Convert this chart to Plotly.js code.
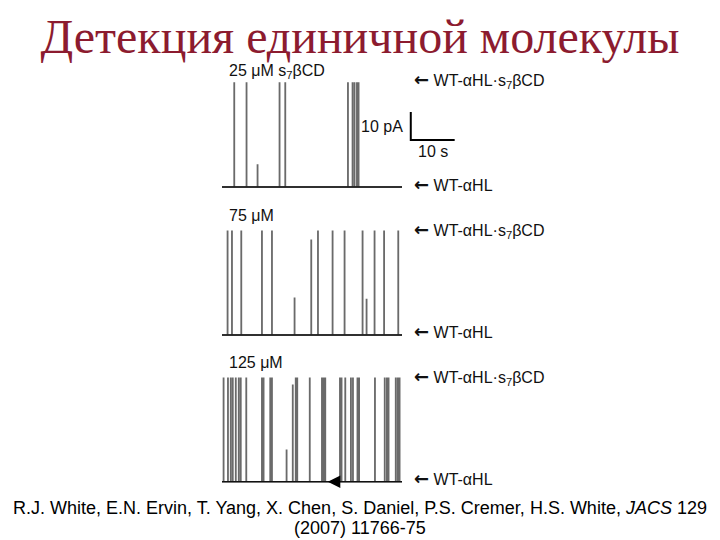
<!DOCTYPE html>
<html><head><meta charset="utf-8">
<script src="https://cdn.plot.ly/plotly-3.0.1.min.js"></script>
<style>html,body{margin:0;padding:0;background:#fff}#chart{width:720px;height:540px}</style>
</head><body><div id="chart"></div>
<script>
// Event times (s) and blockade current amplitudes (pA) read from the recordings
const times25  = [2.73, 5.53, 8.04, 13.05, 14.35, 28.63, 29.68, 30.13, 30.68, 31.05];
const amps25   = [37.2, 37.2, 7.9, 37.2, 37.2, 37.2, 37.2, 37.2, 37.2, 37.2];
const times75  = [1.21, 2.21, 4.33, 9.04, 11.32, 16.47, 20.27, 21.80, 25.13, 27.86, 31.96, 32.87, 34.69, 36.86, 40.09];
const amps75   = [37.1, 37.1, 37.1, 37.1, 37.1, 13.2, 33.9, 37.1, 37.1, 37.1, 37.1, 12.7, 37.1, 37.1, 37.1];
const times125 = [0.30, 1.30, 1.94, 2.39, 3.08, 3.76, 4.21, 5.47, 9.04, 9.41, 10.93, 11.32, 14.65, 16.06, 16.74, 17.08,
                  19.93, 22.71, 23.07, 23.46, 26.81, 27.17, 28.02, 29.31, 29.77, 30.80, 31.16, 34.78, 37.01, 37.51,
                  37.88, 39.52, 39.98, 40.39];
const amps125  = [37.0, 37.0, 37.0, 37.0, 37.0, 37.0, 37.0, 37.0, 37.0, 37.0, 37.0, 37.0, 11.3, 34.5, 37.0, 37.0,
                  37.0, 37.0, 37.0, 37.0, 37.0, 37.0, 37.0, 37.0, 37.0, 37.0, 37.0, 37.0, 37.0, 37.0,
                  37.0, 37.0, 37.0, 37.0];
const recordLength = 41;          // s
const concLabels = ['25 μM s<sub>7</sub>βCD', '75 μM', '125 μM'];
const levelLabels = ['WT-αHL·s<sub>7</sub>βCD', 'WT-αHL'];
const scaleBarTime = 10;          // s
const scaleBarCurrent = 10;       // pA
const scaleBarOrigin = [43, 16.8]; // s, pA
const markerTime = 24.1;          // s, arrow mark on 125 µM trace

const eventWidth = 0.12;
function buildTrace(times, amps) {
  const x = [0], y = [0];
  times.forEach((t, i) => {
    x.push(t, t, t + eventWidth, t + eventWidth);
    y.push(0, amps[i], amps[i], 0);
  });
  x.push(recordLength); y.push(0);
  return {x, y};
}

const sets = [[times25, amps25], [times75, amps75], [times125, amps125]];
const data = [];
sets.forEach((s, i) => {
  const tr = buildTrace(s[0], s[1]);
  const xa = i === 0 ? 'x' : 'x' + (i + 1);
  const ya = i === 0 ? 'y' : 'y' + (i + 1);
  data.push({x: tr.x, y: tr.y, xaxis: xa, yaxis: ya, mode: 'lines', type: 'scatter',
             line: {color: '#6a6a6a', width: 1.3}, hoverinfo: 'skip', showlegend: false});
  data.push({x: [0, recordLength], y: [0, 0], xaxis: xa, yaxis: ya, mode: 'lines', type: 'scatter',
             line: {color: '#111', width: 1.4}, hoverinfo: 'skip', showlegend: false});
});
// scale bar in first panel
data.push({x: [scaleBarOrigin[0], scaleBarOrigin[0], scaleBarOrigin[0] + scaleBarTime],
           y: [scaleBarOrigin[1] + scaleBarCurrent, scaleBarOrigin[1], scaleBarOrigin[1]],
           xaxis: 'x', yaxis: 'y', mode: 'lines', type: 'scatter',
           line: {color: '#000', width: 2}, hoverinfo: 'skip', showlegend: false});

const W = 720, H = 540;
const px = v => v / W, py = v => 1 - v / H;
const xdom = [px(222), px(462)];
const xr = [0, 240 * 41 / 180];
const yr = [-3, 40];
const hidden = {visible: false, showgrid: false, zeroline: false, fixedrange: true};
const panelBaselines = [187, 335, 481.7];
const pxPerPA = 2.8;
const ydom = panelBaselines.map(b => {
  const bottom = b + 3 * pxPerPA, top = bottom - 43 * pxPerPA;
  return [py(bottom), py(top)];
});

const labFont = {family: 'Liberation Sans, Arial, sans-serif', size: 16, color: '#111'};
const ann = [];
const labelY = [71, 215, 362];
concLabels.forEach((t, i) => ann.push({text: t, x: px(227), y: py(labelY[i]), xref: 'paper', yref: 'paper',
  xanchor: 'left', yanchor: 'middle', showarrow: false, font: labFont}));
const levY = [[80, 185], [230, 331], [377, 478]];
const arrowGlyph = '<span style="font-family:DejaVu Sans;font-size:18px;font-weight:bold">←</span> ';
levY.forEach(pair => pair.forEach((yy, j) => ann.push({text: arrowGlyph + levelLabels[j], x: px(412), y: py(yy),
  xref: 'paper', yref: 'paper', xanchor: 'left', yanchor: 'middle', showarrow: false, font: labFont})));
ann.push({text: scaleBarCurrent + ' pA', x: px(405), y: py(127), xref: 'paper', yref: 'paper', xanchor: 'right',
  yanchor: 'middle', showarrow: false, font: labFont});
ann.push({text: scaleBarTime + ' s', x: px(433), y: py(151), xref: 'paper', yref: 'paper', xanchor: 'center',
  yanchor: 'middle', showarrow: false, font: labFont});
// small marker arrow on 125 µM trace
ann.push({text: '', x: markerTime, y: 0, xref: 'x3', yref: 'y3', ax: 10, ay: 0, showarrow: true,
  arrowhead: 2, arrowsize: 1, arrowwidth: 2.5, arrowcolor: '#000'});
const citeFont = {family: 'Liberation Sans Narrow, Arial Narrow, Liberation Sans, Arial, sans-serif', size: 18, color: '#000'};
ann.push({text: 'R.J. White, E.N. Ervin, T. Yang, X. Chen, S. Daniel, P.S. Cremer, H.S. White, <i>JACS</i> 129',
  x: 0.5, y: py(508), xref: 'paper', yref: 'paper', xanchor: 'center', yanchor: 'middle', showarrow: false, font: citeFont});
ann.push({text: '(2007) 11766-75', x: 0.5, y: py(528), xref: 'paper', yref: 'paper', xanchor: 'center',
  yanchor: 'middle', showarrow: false, font: citeFont});

const layout = {
  width: W, height: H, margin: {l: 0, r: 0, t: 0, b: 0},
  paper_bgcolor: '#fff', plot_bgcolor: 'rgba(0,0,0,0)', showlegend: false,
  title: {text: 'Детекция единичной молекулы', x: 0.5, xanchor: 'center', y: py(36), yanchor: 'middle',
          font: {family: 'Liberation Serif, Times New Roman, serif', size: 48, color: '#8c1b2f'}},
  xaxis:  Object.assign({domain: xdom, range: xr, anchor: 'y'}, hidden),
  xaxis2: Object.assign({domain: xdom, range: xr, anchor: 'y2'}, hidden),
  xaxis3: Object.assign({domain: xdom, range: xr, anchor: 'y3'}, hidden),
  yaxis:  Object.assign({domain: ydom[0], range: yr, anchor: 'x'}, hidden),
  yaxis2: Object.assign({domain: ydom[1], range: yr, anchor: 'x2'}, hidden),
  yaxis3: Object.assign({domain: ydom[2], range: yr, anchor: 'x3'}, hidden),
  annotations: ann
};
Plotly.newPlot('chart', data, layout, {staticPlot: true, displayModeBar: false});
</script></body></html>
